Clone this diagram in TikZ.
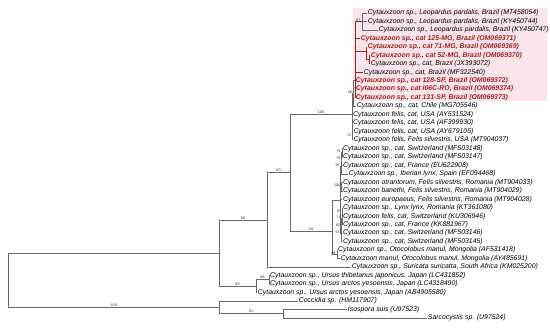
\documentclass[tikz,border=0pt]{standalone}
\usepackage{fontspec}
\setmainfont{Liberation Sans}
\usetikzlibrary{positioning,calc}
\definecolor{treeGray}{RGB}{105,105,105}
\definecolor{brazilRed}{RGB}{160,32,30}
\definecolor{brazilPink}{RGB}{252,229,234}

\begin{document}
\begin{tikzpicture}[x=1pt, y=-1pt,
  leaf/.style={anchor=west, inner xsep=0.7pt, inner ysep=0pt, font=\fontsize{6.9}{7}\selectfont\itshape},
  hot/.style={leaf, text=brazilRed, font=\fontsize{6.9}{7}\selectfont\itshape\bfseries},
  br/.style={draw=treeGray, line width=0.6pt},
  rbr/.style={draw=brazilRed, line width=0.7pt},
  bs/.style={font=\fontsize{3.6}{4}\selectfont, inner sep=0.5pt, text=black!85},
  bsl/.style={bs, anchor=east, xshift=-0.8pt, yshift=1pt}
]
\useasboundingbox (0,0) rectangle (550,328);

% Fondo del clado brasileno
\fill[brazilPink] (353,8) rectangle (547,101);

% Hojas: clado brasileno
\node[leaf] (l1) at (367,13.0) {Cytauxzoon sp., Leopardus pardalis, Brazil (MT458054)};
\node[leaf] (l2) at (367,21.5) {Cytauxzoon sp., Leopardus pardalis, Brazil (KY450744)};
\node[leaf] (l3) at (378,29.9) {Cytauxzoon sp., Leopardus pardalis, Brazil (KY450747)};
\node[hot] (l4) at (360,38.4) {Cytauxzoon sp., cat 125-MG, Brazil (OM069371)};
\node[hot] (l5) at (367,46.9) {Cytauxzoon sp., cat 71-MG, Brazil (OM069369)};
\node[hot] (l6) at (370,55.4) {Cytauxzoon sp., cat 52-MG, Brazil (OM069370)};
\node[leaf] (l7) at (370,63.8) {Cytauxzoon sp., cat, Brazil (JX393072)};
\node[leaf] (l8) at (363,72.3) {Cytauxzoon sp., cat, Brazil (MF322540)};
\node[hot] (l9) at (355,80.8) {Cytauxzoon sp., cat 128-SP, Brazil (OM069372)};
\node[hot] (l10) at (355,89.2) {Cytauxzoon sp., cat I06C-RO, Brazil (OM069374)};
\node[hot] (l11) at (355,97.7) {Cytauxzoon sp., cat 131-SP, Brazil (OM069373)};
\node[leaf] (l12) at (356,106.2) {Cytauxzoon sp., cat, Chile (MG705546)};

% Hojas: C. felis
\node[leaf] (l13) at (352.3,114.6) {Cytauxzoon felis, cat, USA (AY531524)};
\node[leaf] (l14) at (352.3,123.1) {Cytauxzoon felis, cat, USA (AF399930)};
\node[leaf] (l15) at (352.6,131.6) {Cytauxzoon felis, cat, USA (AY679105)};
\node[leaf] (l16) at (352.6,140.1) {Cytauxzoon felis, Felis silvestris, USA (MT904037)};

% Hojas: clado euroasiatico
\node[leaf] (l17) at (342.3,148.5) {Cytauxzoon sp., cat, Switzerland (MF503148)};
\node[leaf] (l18) at (342.3,157.0) {Cytauxzoon sp., cat, Switzerland (MF503147)};
\node[leaf] (l19) at (342.3,165.5) {Cytauxzoon sp., cat, France (EU622908)};
\node[leaf] (l20) at (348,173.9) {Cytauxzoon sp., Iberian lynx, Spain (EF094468)};
\node[leaf] (l21) at (342.3,182.4) {Cytauxzoon otrantorum, Felis silvestris, Romania (MT904033)};
\node[leaf] (l22) at (342.3,190.9) {Cytauxzoon banethi, Felis silvestris, Romania (MT904029)};
\node[leaf] (l23) at (342.3,199.3) {Cytauxzoon europaeus, Felis silvestris, Romania (MT904028)};
\node[leaf] (l24) at (342.3,207.8) {Cytauxzoon sp., Lynx lynx, Romania (KT361080)};
\node[leaf] (l25) at (342.3,216.3) {Cytauxzoon felis, cat, Switzerland (KU306946)};
\node[leaf] (l26) at (342.3,224.8) {Cytauxzoon sp., cat, France (KK881967)};
\node[leaf] (l27) at (342.3,233.2) {Cytauxzoon sp., cat, Switzerland (MF503146)};
\node[leaf] (l28) at (342.3,241.7) {Cytauxzoon sp., cat, Switzerland (MF503145)};
\node[leaf] (l29) at (337.3,250.2) {Cytauxzoon sp., Otocolobus manul, Mongolia (AF531418)};
\node[leaf] (l30) at (340,258.6) {Cytauxzoon manul, Otocolobus manul, Mongolia (AY485691)};
\node[leaf] (l31) at (351,267.1) {Cytauxzoon sp., Suricata suricatta, South Africa (KM025200)};

% Hojas: osos y grupo externo
\node[leaf] (l32) at (269.3,275.6) {Cytauxzoon sp., Ursus thibetanus japonicus, Japan (LC431852)};
\node[leaf] (l33) at (269.3,284.0) {Cytauxzoon sp., Ursus arctos yesoensis, Japan (LC4318490)};
\node[leaf] (l34) at (257,292.5) {Cytauxzoon sp., Ursus arctos yesoensis, Japan (AB4905580)};
\node[leaf] (l35) at (298,301.0) {Coccidia sp. (HM117907)};
\node[leaf] (l36) at (347,309.5) {Isospora suis (U97523)};
\node[leaf] (l37) at (427,317.9) {Sarcocystis sp. (U97524)};

% Nodos internos
\coordinate (root) at (8.5,280);
\coordinate (nIn) at (219,253);
\coordinate (nOut) at (219,307.35);
\coordinate (n90) at (267,219.9);
\coordinate (n89) at (256,286.15);
\coordinate (n98u) at (269,279.8);
\coordinate (nIso) at (283,313.7);
\coordinate (n60) at (290,172.75);
\coordinate (n100) at (352,114.5);
\coordinate (n94) at (332,231);
\coordinate (nOto) at (337,254.4);
\coordinate (nA) at (340.5,200);
\coordinate (n98a) at (341.2,166.5);
\coordinate (n79) at (341.7,159.1);
\coordinate (n76) at (342.2,152.75);
\coordinate (n100a) at (341.6,186.6);
\coordinate (n63) at (341.2,233.7);
\coordinate (n62) at (341.6,225.8);
\coordinate (n71b) at (341.9,218.4);
\coordinate (n97) at (342.3,212.05);
\coordinate (n72) at (352.6,135.8);
\coordinate (nBr) at (353.5,93.1);
\coordinate (nRed) at (355,80);
\coordinate (nLeo) at (362,21.5);
\coordinate (n71) at (366,51.2);
\coordinate (nJX) at (369,59.6);

% Ramas: raiz y grupo externo
\draw[br] (root) |- node[bs, pos=0.75, above] {100} (nOut);
\draw[br] (root) |- (nIn);
\draw[br] (nOut) |- (l35.west);
\draw[br] (nOut) |- node[bs, pos=0.75, above] {91} (nIso);
\draw[br] (nIso) |- (l36.west);
\draw[br] (nIso) |- (l37.west);

% Ramas: osos
\draw[br] (nIn) |- node[bs, pos=0.75, above] {89} (n89);
\draw[br] (n89) |- node[bs, pos=0.75, above] {98} (n98u);
\draw[br] (n89) |- (l34.west);
\draw[br] (n98u) |- (l32.west);
\draw[br] (n98u) |- (l33.west);

% Ramas: felidos
\draw[br] (nIn) |- node[bs, pos=0.75, above] {90} (n90);
\draw[br] (n90) |- node[bs, pos=0.75, above] {60} (n60);
\draw[br] (n90) |- (l31.west);
\draw[br] (n60) |- node[bs, pos=0.75, above] {100} (n100);
\draw[br] (n60) |- node[bs, pos=0.75, above] {94} (n94);

% Ramas: clado euroasiatico y Otocolobus
\draw[br] (n94) |- (nA);
\draw[br] (n94) |- (nOto);
\draw[br] (nOto) |- (l29.west);
\draw[br] (nOto) |- (l30.west);
\draw[br] (nA) |- (n98a);
\draw[br] (nA) |- (n100a);
\draw[br] (nA) |- (l23.west);
\draw[br] (nA) |- (n63);
\draw[br] (n98a) |- (n79);
\draw[br] (n98a) |- (l20.west);
\draw[br] (n79) |- (n76);
\draw[br] (n79) |- (l19.west);
\draw[br] (n76) |- (l17.west);
\draw[br] (n76) |- (l18.west);
\draw[br] (n100a) |- (l21.west);
\draw[br] (n100a) |- (l22.west);
\draw[br] (n63) |- (n62);
\draw[br] (n63) |- (l28.west);
\draw[br] (n62) |- (n71b);
\draw[br] (n62) |- (l27.west);
\draw[br] (n71b) |- (n97);
\draw[br] (n71b) |- (l26.west);
\draw[br] (n97) |- (l24.west);
\draw[br] (n97) |- (l25.west);

% Ramas: C. felis y clado sudamericano
\draw[br] (n100) |- (nBr);
\draw[br] (n100) |- (l13.west);
\draw[br] (n100) |- (l14.west);
\draw[br] (n100) |- (n72);
\draw[br] (n72) |- (l15.west);
\draw[br] (n72) |- (l16.west);
\draw[br] (nBr) |- (nRed);
\draw[br] (nBr) |- (l12.west);
\draw[rbr] (nRed) |- (nLeo);
\draw[rbr] (nRed) |- (l4.west);
\draw[rbr] (nRed) |- (n71);
\draw[rbr] (nRed) |- (l8.west);
\draw[rbr] (nRed) |- (l9.west);
\draw[rbr] (nRed) |- (l10.west);
\draw[rbr] (nRed) |- (l11.west);
\draw[br] (nLeo) |- (l1.west);
\draw[br] (nLeo) |- (l2.west);
\draw[br] (nLeo) |- (l3.west);
\draw[rbr] (n71) |- (l5.west);
\draw[rbr] (n71) |- (nJX);
\draw[rbr] (nJX) |- (l6.west);
\draw[rbr] (nJX) |- (l7.west);

% Soportes de nodos cortos
\node[bsl] at (nBr) {98};
\node[bsl] at (n72) {72};
\node[bsl] at (nLeo) {87};
\node[bsl] at (nOto) {98};
\node[bsl] at (n76) {76};
\node[bsl] at (n79) {79};
\node[bsl] at (n98a) {98};
\node[bsl] at (n100a) {100};
\node[bsl] at (n97) {97};
\node[bsl] at (n71b) {71};
\node[bsl] at (n62) {62};
\node[bsl] at (n63) {63};

\end{tikzpicture}
\end{document}
